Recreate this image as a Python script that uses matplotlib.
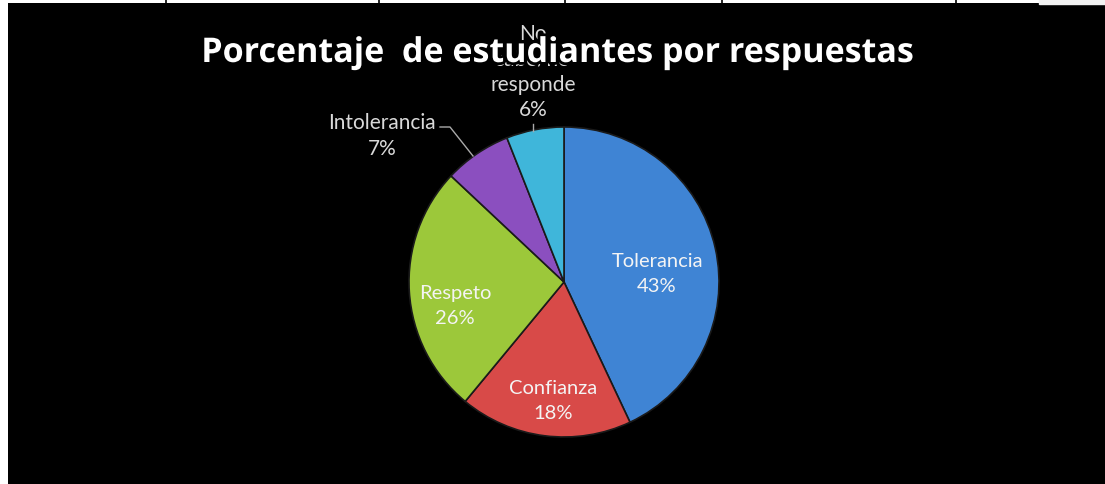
import matplotlib.pyplot as plt
import matplotlib.patheffects as pe
from matplotlib.lines import Line2D

# datos
categorias = ['Tolerancia', 'Confianza', 'Respeto', 'Intolerancia', 'No sabe/no responde']
porcentajes = [43, 18, 26, 7, 6]
colores = ['#3f84d4', '#d84a48', '#9cc83a', '#8b4fbf', '#3fb6da']
titulo = 'Porcentaje  de estudiantes por respuestas'

W, H = 1105, 485
fig = plt.figure(figsize=(W / 100, H / 100), dpi=100)
fig.patch.set_facecolor('white')


def px(x, y):
    # pixeles (origen arriba-izquierda) -> coordenadas de figura
    return x / W, 1 - y / H


# franja blanca superior con lineas de tabla
for xl in [166, 379, 565, 722, 956]:
    fig.add_artist(Line2D([xl / W, xl / W], [1, 1 - 5 / H], color='black', lw=1.2))
fig.add_artist(plt.Rectangle(px(1039, 5), (W - 1039) / W, 5 / H, color='#f2f2f2',
                             transform=fig.transFigure))

# fondo negro del grafico
fondo = fig.add_axes([8 / W, 0, 1 - 8 / W, (H - 4) / H])
fondo.set_facecolor('black')
fondo.set_xticks([])
fondo.set_yticks([])
for s in fondo.spines.values():
    s.set_visible(False)

# pastel
cx, cy, r = 564, 283, 155
ax = fig.add_axes([(cx - r) / W, (H - cy - r) / H, 2 * r / W, 2 * r / H])
ax.set_facecolor('none')
wedges, _ = ax.pie(porcentajes, colors=colores, startangle=90, counterclock=False,
                   wedgeprops=dict(edgecolor='#1a1a1a', linewidth=1.2))
ax.set_xlim(-1, 1)
ax.set_ylim(-1, 1)
ax.set_aspect('equal')

fuente = ['Lato', 'DejaVu Sans']
interior = '#f4f4f4'
exterior = '#d9d9d9'

# etiquetas dentro
fig.text(*px(657, 274), f'{categorias[0]}\n{porcentajes[0]}%', color=interior,
         ha='center', va='center', fontsize=14.5, family=fuente, linespacing=1.62)
fig.text(*px(553, 401), f'{categorias[1]}\n{porcentajes[1]}%', color=interior,
         ha='center', va='center', fontsize=14.5, family=fuente, linespacing=1.62)
fig.text(*px(455, 306), f'{categorias[2]}\n{porcentajes[2]}%', color=interior,
         ha='center', va='center', fontsize=14.5, family=fuente, linespacing=1.62)

# etiquetas fuera
fig.text(*px(382, 136), f'{categorias[3]}\n{porcentajes[3]}%', color=exterior,
         ha='center', va='center', fontsize=15, family=fuente, linespacing=1.4)
fig.add_artist(Line2D([px(440, 0)[0], px(450, 0)[0], px(473, 0)[0]],
                      [px(0, 128)[1], px(0, 128)[1], px(0, 157)[1]],
                      color='#aaaaaa', lw=1))
fig.text(*px(533, 72), 'No\nsabe/no\nresponde\n' + f'{porcentajes[4]}%', color=exterior,
         ha='center', va='center', fontsize=15, family=fuente, linespacing=1.32, zorder=2)
fig.add_artist(Line2D([px(533, 0)[0]] * 2, [px(0, 125)[1], px(0, 132)[1]],
                      color='#aaaaaa', lw=1))

# titulo por encima, con contorno negro que tapa la etiqueta de detras
fig.text(*px(557, 54), titulo, color='white', ha='center', va='center',
         fontsize=24.5, fontweight='bold', family=['Open Sans', 'DejaVu Sans'], zorder=5,
         path_effects=[pe.withStroke(linewidth=4, foreground='black')])

fig.savefig('out.png', dpi=100, facecolor=fig.get_facecolor())
